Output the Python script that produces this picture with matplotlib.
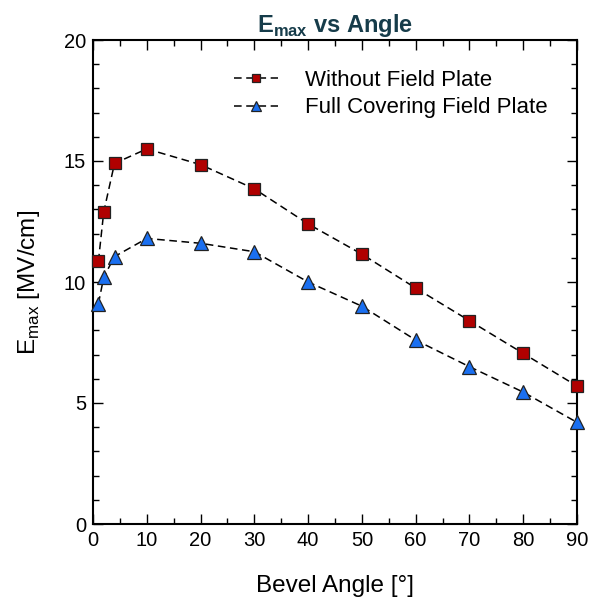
import numpy as np
import matplotlib.pyplot as plt
from matplotlib.ticker import MultipleLocator

plt.rcParams['font.family'] = ['Liberation Sans', 'DejaVu Sans']

angle = [1, 2, 4, 10, 20, 30, 40, 50, 60, 70, 80, 90]
emax_no_fp = [10.85, 12.9, 14.9, 15.5, 14.85, 13.85, 12.4, 11.15, 9.75, 8.4, 7.05, 5.7]
emax_full_fp = [9.1, 10.2, 11.05, 11.8, 11.6, 11.25, 10.0, 9.0, 7.6, 6.5, 5.45, 4.2]

fig = plt.figure(figsize=(5.9, 6.02), dpi=100)
ax = fig.add_axes([93 / 590, 1 - 524 / 602, 484 / 590, 484 / 602])

ax.plot(angle, emax_no_fp, '--', color='black', lw=1.1, dashes=(5, 3),
        marker='s', ms=8, mfc='#b00000', mec='#222222', mew=0.9,
        label='Without Field Plate', clip_on=False, zorder=3)
ax.plot(angle, emax_full_fp, '--', color='black', lw=1.1, dashes=(5, 3),
        marker='^', ms=10, mfc='#1a6ff0', mec='#222222', mew=0.9,
        label='Full Covering Field Plate', clip_on=False, zorder=3)

ax.set_xlim(0, 90)
ax.set_ylim(0, 20)
ax.xaxis.set_major_locator(MultipleLocator(10))
ax.xaxis.set_minor_locator(MultipleLocator(5))
ax.yaxis.set_major_locator(MultipleLocator(5))
ax.yaxis.set_minor_locator(MultipleLocator(1))
ax.tick_params(which='both', direction='in', top=True, right=True, labelsize=14.5)
ax.tick_params(which='major', length=7, width=1, pad=5)
ax.tick_params(which='minor', length=4, width=1)
for s in ax.spines.values():
    s.set_linewidth(1.5)

ax.set_xlabel('Bevel Angle [°]', fontsize=17.5, labelpad=18)
ax.set_ylabel('E$_{\\mathregular{max}}$ [MV/cm]', fontsize=17.5, labelpad=16)
ax.set_title('E$_{\\mathregular{max}}$ vs Angle', fontsize=17, fontweight='bold',
             color='#163c4a', pad=6)

ax.legend(loc='upper left', bbox_to_anchor=(0.25, 0.98), frameon=False,
          fontsize=16, handlelength=2.0, labelspacing=0.3, handletextpad=1.2,
          markerscale=0.7)

fig.savefig('out.png', dpi=100)
